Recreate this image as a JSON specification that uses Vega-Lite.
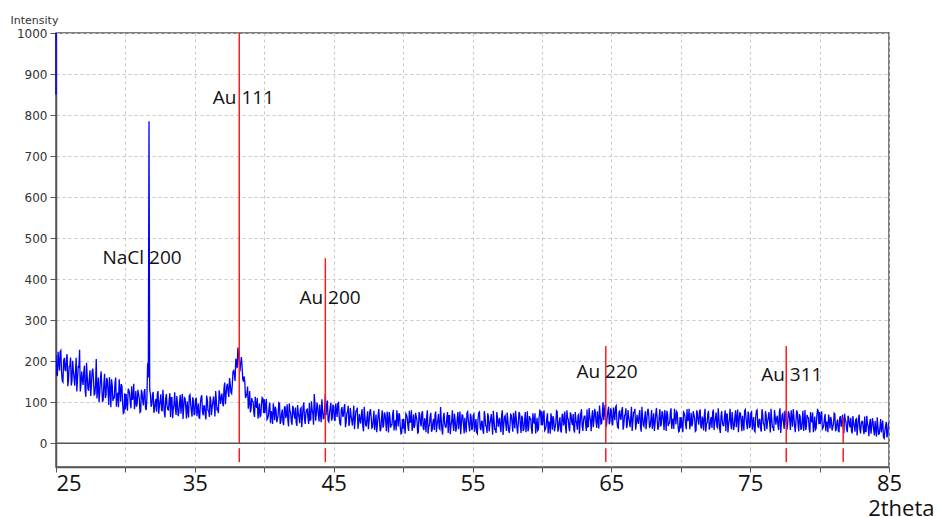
{
"$schema": "https://vega.github.io/schema/vega-lite/v6.json",
"width": 833, "height": 434,
"autosize": "none",
"padding": {"left": 56, "top": 33, "right": 51, "bottom": 50},
"background": "white",
"config": {"view": {"stroke": "#555", "strokeWidth": 1.5}},
"datasets": {
"xrd": [
{"t":25.0,"i":215},{"t":25.1,"i":164},{"t":25.2,"i":199},{"t":25.3,"i":223},{"t":25.4,"i":174},{"t":25.5,"i":149},{"t":25.6,"i":208},{"t":25.7,"i":177},{"t":25.8,"i":217},{"t":25.9,"i":155},
{"t":26.0,"i":188},{"t":26.1,"i":141},{"t":26.2,"i":201},{"t":26.3,"i":160},{"t":26.4,"i":171},{"t":26.5,"i":126},{"t":26.6,"i":187},{"t":26.7,"i":228},{"t":26.8,"i":144},{"t":26.9,"i":154},
{"t":27.0,"i":173},{"t":27.1,"i":129},{"t":27.2,"i":196},{"t":27.3,"i":133},{"t":27.4,"i":158},{"t":27.5,"i":115},{"t":27.6,"i":174},{"t":27.7,"i":156},{"t":27.8,"i":120},{"t":27.9,"i":205},
{"t":28.0,"i":132},{"t":28.1,"i":100},{"t":28.2,"i":155},{"t":28.3,"i":137},{"t":28.4,"i":106},{"t":28.5,"i":169},{"t":28.6,"i":116},{"t":28.7,"i":154},{"t":28.8,"i":93},{"t":28.9,"i":133},
{"t":29.0,"i":156},{"t":29.1,"i":103},{"t":29.2,"i":111},{"t":29.3,"i":160},{"t":29.4,"i":117},{"t":29.5,"i":88},{"t":29.6,"i":131},{"t":29.7,"i":144},{"t":29.8,"i":97},{"t":29.9,"i":75},
{"t":30.0,"i":82},{"t":30.1,"i":97},{"t":30.2,"i":133},{"t":30.3,"i":121},{"t":30.4,"i":85},{"t":30.5,"i":106},{"t":30.6,"i":145},{"t":30.7,"i":98},{"t":30.8,"i":89},{"t":30.9,"i":130},
{"t":31.0,"i":109},{"t":31.1,"i":77},{"t":31.2,"i":123},{"t":31.3,"i":92},{"t":31.4,"i":132},{"t":31.5,"i":81},{"t":31.6,"i":195},{"t":31.7,"i":785},{"t":31.8,"i":120},{"t":31.9,"i":94},
{"t":32.0,"i":125},{"t":32.1,"i":81},{"t":32.2,"i":108},{"t":32.3,"i":120},{"t":32.4,"i":72},{"t":32.5,"i":103},{"t":32.6,"i":82},{"t":32.7,"i":130},{"t":32.8,"i":75},{"t":32.9,"i":108},
{"t":33.0,"i":91},{"t":33.1,"i":81},{"t":33.2,"i":122},{"t":33.3,"i":111},{"t":33.4,"i":61},{"t":33.5,"i":94},{"t":33.6,"i":84},{"t":33.7,"i":115},{"t":33.8,"i":66},{"t":33.9,"i":100},
{"t":34.0,"i":72},{"t":34.1,"i":120},{"t":34.2,"i":87},{"t":34.3,"i":109},{"t":34.4,"i":60},{"t":34.5,"i":79},{"t":34.6,"i":115},{"t":34.7,"i":96},{"t":34.8,"i":65},{"t":34.9,"i":103},
{"t":35.0,"i":73},{"t":35.1,"i":111},{"t":35.2,"i":81},{"t":35.3,"i":62},{"t":35.4,"i":98},{"t":35.5,"i":117},{"t":35.6,"i":68},{"t":35.7,"i":91},{"t":35.8,"i":58},{"t":35.9,"i":106},
{"t":36.0,"i":78},{"t":36.1,"i":114},{"t":36.2,"i":68},{"t":36.3,"i":100},{"t":36.4,"i":92},{"t":36.5,"i":127},{"t":36.6,"i":80},{"t":36.7,"i":73},{"t":36.8,"i":117},{"t":36.9,"i":111},
{"t":37.0,"i":99},{"t":37.1,"i":134},{"t":37.2,"i":95},{"t":37.3,"i":139},{"t":37.4,"i":125},{"t":37.5,"i":159},{"t":37.6,"i":124},{"t":37.7,"i":144},{"t":37.8,"i":177},{"t":37.9,"i":152},
{"t":38.0,"i":196},{"t":38.1,"i":233},{"t":38.2,"i":197},{"t":38.3,"i":194},{"t":38.4,"i":190},{"t":38.5,"i":150},{"t":38.6,"i":149},{"t":38.7,"i":115},{"t":38.8,"i":138},{"t":38.9,"i":100},
{"t":39.0,"i":75},{"t":39.1,"i":110},{"t":39.2,"i":101},{"t":39.3,"i":64},{"t":39.4,"i":92},{"t":39.5,"i":110},{"t":39.6,"i":76},{"t":39.7,"i":65},{"t":39.8,"i":96},{"t":39.9,"i":109},
{"t":40.0,"i":107},{"t":40.1,"i":92},{"t":40.2,"i":58},{"t":40.3,"i":68},{"t":40.4,"i":99},{"t":40.5,"i":78},{"t":40.6,"i":47},{"t":40.7,"i":82},{"t":40.8,"i":89},{"t":40.9,"i":51},
{"t":41.0,"i":68},{"t":41.1,"i":97},{"t":41.2,"i":54},{"t":41.3,"i":82},{"t":41.4,"i":44},{"t":41.5,"i":90},{"t":41.6,"i":69},{"t":41.7,"i":56},{"t":41.8,"i":97},{"t":41.9,"i":74},
{"t":42.0,"i":45},{"t":42.1,"i":85},{"t":42.2,"i":60},{"t":42.3,"i":50},{"t":42.4,"i":93},{"t":42.5,"i":64},{"t":42.6,"i":83},{"t":42.7,"i":39},{"t":42.8,"i":89},{"t":42.9,"i":59},
{"t":43.0,"i":74},{"t":43.1,"i":83},{"t":43.2,"i":47},{"t":43.3,"i":56},{"t":43.4,"i":102},{"t":43.5,"i":72},{"t":43.6,"i":120},{"t":43.7,"i":55},{"t":43.8,"i":99},{"t":43.9,"i":68},
{"t":44.0,"i":94},{"t":44.1,"i":51},{"t":44.2,"i":82},{"t":44.3,"i":61},{"t":44.4,"i":120},{"t":44.5,"i":89},{"t":44.6,"i":55},{"t":44.7,"i":72},{"t":44.8,"i":99},{"t":44.9,"i":63},
{"t":45.0,"i":90},{"t":45.1,"i":54},{"t":45.2,"i":80},{"t":45.3,"i":97},{"t":45.4,"i":63},{"t":45.5,"i":45},{"t":45.6,"i":88},{"t":45.7,"i":66},{"t":45.8,"i":95},{"t":45.9,"i":51},
{"t":46.0,"i":75},{"t":46.1,"i":42},{"t":46.2,"i":86},{"t":46.3,"i":57},{"t":46.4,"i":66},{"t":46.5,"i":34},{"t":46.6,"i":78},{"t":46.7,"i":87},{"t":46.8,"i":49},{"t":46.9,"i":57},
{"t":47.0,"i":71},{"t":47.1,"i":41},{"t":47.2,"i":89},{"t":47.3,"i":45},{"t":47.4,"i":63},{"t":47.5,"i":34},{"t":47.6,"i":76},{"t":47.7,"i":65},{"t":47.8,"i":39},{"t":47.9,"i":79},
{"t":48.0,"i":49},{"t":48.1,"i":27},{"t":48.2,"i":68},{"t":48.3,"i":56},{"t":48.4,"i":34},{"t":48.5,"i":80},{"t":48.6,"i":43},{"t":48.7,"i":71},{"t":48.8,"i":29},{"t":48.9,"i":58},
{"t":49.0,"i":76},{"t":49.1,"i":38},{"t":49.2,"i":45},{"t":49.3,"i":81},{"t":49.4,"i":51},{"t":49.5,"i":31},{"t":49.6,"i":63},{"t":49.7,"i":73},{"t":49.8,"i":39},{"t":49.9,"i":25},
{"t":50.0,"i":35},{"t":50.1,"i":39},{"t":50.2,"i":72},{"t":50.3,"i":62},{"t":50.4,"i":30},{"t":50.5,"i":50},{"t":50.6,"i":80},{"t":50.7,"i":44},{"t":50.8,"i":37},{"t":50.9,"i":74},
{"t":51.0,"i":56},{"t":51.1,"i":27},{"t":51.2,"i":69},{"t":51.3,"i":41},{"t":51.4,"i":78},{"t":51.5,"i":32},{"t":51.6,"i":53},{"t":51.7,"i":65},{"t":51.8,"i":23},{"t":51.9,"i":45},
{"t":52.0,"i":74},{"t":52.1,"i":34},{"t":52.2,"i":59},{"t":52.3,"i":70},{"t":52.4,"i":27},{"t":52.5,"i":56},{"t":52.6,"i":37},{"t":52.7,"i":88},{"t":52.8,"i":32},{"t":52.9,"i":62},
{"t":53.0,"i":47},{"t":53.1,"i":39},{"t":53.2,"i":76},{"t":53.3,"i":67},{"t":53.4,"i":22},{"t":53.5,"i":53},{"t":53.6,"i":44},{"t":53.7,"i":72},{"t":53.8,"i":28},{"t":53.9,"i":60},
{"t":54.0,"i":34},{"t":54.1,"i":77},{"t":54.2,"i":47},{"t":54.3,"i":68},{"t":54.4,"i":24},{"t":54.5,"i":41},{"t":54.6,"i":74},{"t":54.7,"i":56},{"t":54.8,"i":29},{"t":54.9,"i":64},
{"t":55.0,"i":36},{"t":55.1,"i":71},{"t":55.2,"i":44},{"t":55.3,"i":26},{"t":55.4,"i":59},{"t":55.5,"i":76},{"t":55.6,"i":32},{"t":55.7,"i":53},{"t":55.8,"i":23},{"t":55.9,"i":66},
{"t":56.0,"i":41},{"t":56.1,"i":73},{"t":56.2,"i":29},{"t":56.3,"i":57},{"t":56.4,"i":48},{"t":56.5,"i":79},{"t":56.6,"i":34},{"t":56.7,"i":25},{"t":56.8,"i":62},{"t":56.9,"i":54},
{"t":57.0,"i":39},{"t":57.1,"i":69},{"t":57.2,"i":20},{"t":57.3,"i":64},{"t":57.4,"i":45},{"t":57.5,"i":75},{"t":57.6,"i":32},{"t":57.7,"i":43},{"t":57.8,"i":68},{"t":57.9,"i":28},
{"t":58.0,"i":57},{"t":58.1,"i":79},{"t":58.2,"i":38},{"t":58.3,"i":50},{"t":58.4,"i":71},{"t":58.5,"i":25},{"t":58.6,"i":62},{"t":58.7,"i":34},{"t":58.8,"i":76},{"t":58.9,"i":47},
{"t":59.0,"i":29},{"t":59.1,"i":66},{"t":59.2,"i":59},{"t":59.3,"i":23},{"t":59.4,"i":53},{"t":59.5,"i":73},{"t":59.6,"i":41},{"t":59.7,"i":31},{"t":59.8,"i":64},{"t":59.9,"i":78},
{"t":60.0,"i":78},{"t":60.1,"i":64},{"t":60.2,"i":31},{"t":60.3,"i":41},{"t":60.4,"i":73},{"t":60.5,"i":53},{"t":60.6,"i":23},{"t":60.7,"i":59},{"t":60.8,"i":66},{"t":60.9,"i":29},
{"t":61.0,"i":48},{"t":61.1,"i":77},{"t":61.2,"i":35},{"t":61.3,"i":63},{"t":61.4,"i":26},{"t":61.5,"i":72},{"t":61.6,"i":51},{"t":61.7,"i":39},{"t":61.8,"i":80},{"t":61.9,"i":58},
{"t":62.0,"i":29},{"t":62.1,"i":69},{"t":62.2,"i":44},{"t":62.3,"i":33},{"t":62.4,"i":76},{"t":62.5,"i":48},{"t":62.6,"i":67},{"t":62.7,"i":23},{"t":62.8,"i":72},{"t":62.9,"i":42},
{"t":63.0,"i":57},{"t":63.1,"i":66},{"t":63.2,"i":30},{"t":63.3,"i":40},{"t":63.4,"i":86},{"t":63.5,"i":56},{"t":63.6,"i":66},{"t":63.7,"i":39},{"t":63.8,"i":84},{"t":63.9,"i":52},
{"t":64.0,"i":78},{"t":64.1,"i":36},{"t":64.2,"i":68},{"t":64.3,"i":48},{"t":64.4,"i":100},{"t":64.5,"i":78},{"t":64.6,"i":46},{"t":64.7,"i":63},{"t":64.8,"i":89},{"t":64.9,"i":53},
{"t":65.0,"i":80},{"t":65.1,"i":44},{"t":65.2,"i":71},{"t":65.3,"i":88},{"t":65.4,"i":55},{"t":65.5,"i":37},{"t":65.6,"i":80},{"t":65.7,"i":59},{"t":65.8,"i":88},{"t":65.9,"i":45},
{"t":66.0,"i":69},{"t":66.1,"i":37},{"t":66.2,"i":81},{"t":66.3,"i":53},{"t":66.4,"i":62},{"t":66.5,"i":30},{"t":66.6,"i":75},{"t":66.7,"i":84},{"t":66.8,"i":47},{"t":66.9,"i":55},
{"t":67.0,"i":70},{"t":67.1,"i":40},{"t":67.2,"i":89},{"t":67.3,"i":44},{"t":67.4,"i":63},{"t":67.5,"i":34},{"t":67.6,"i":77},{"t":67.7,"i":66},{"t":67.8,"i":41},{"t":67.9,"i":81},
{"t":68.0,"i":52},{"t":68.1,"i":30},{"t":68.2,"i":71},{"t":68.3,"i":59},{"t":68.4,"i":38},{"t":68.5,"i":83},{"t":68.6,"i":46},{"t":68.7,"i":74},{"t":68.8,"i":32},{"t":68.9,"i":61},
{"t":69.0,"i":79},{"t":69.1,"i":42},{"t":69.2,"i":49},{"t":69.3,"i":85},{"t":69.4,"i":55},{"t":69.5,"i":35},{"t":69.6,"i":67},{"t":69.7,"i":77},{"t":69.8,"i":44},{"t":69.9,"i":30},
{"t":70.0,"i":36},{"t":70.1,"i":43},{"t":70.2,"i":76},{"t":70.3,"i":66},{"t":70.4,"i":34},{"t":70.5,"i":54},{"t":70.6,"i":84},{"t":70.7,"i":48},{"t":70.8,"i":41},{"t":70.9,"i":78},
{"t":71.0,"i":60},{"t":71.1,"i":31},{"t":71.2,"i":73},{"t":71.3,"i":45},{"t":71.4,"i":82},{"t":71.5,"i":36},{"t":71.6,"i":57},{"t":71.7,"i":69},{"t":71.8,"i":28},{"t":71.9,"i":50},
{"t":72.0,"i":79},{"t":72.1,"i":39},{"t":72.2,"i":64},{"t":72.3,"i":75},{"t":72.4,"i":32},{"t":72.5,"i":60},{"t":72.6,"i":41},{"t":72.7,"i":85},{"t":72.8,"i":36},{"t":72.9,"i":66},
{"t":73.0,"i":51},{"t":73.1,"i":43},{"t":73.2,"i":80},{"t":73.3,"i":71},{"t":73.4,"i":26},{"t":73.5,"i":57},{"t":73.6,"i":48},{"t":73.7,"i":76},{"t":73.8,"i":32},{"t":73.9,"i":64},
{"t":74.0,"i":39},{"t":74.1,"i":82},{"t":74.2,"i":52},{"t":74.3,"i":73},{"t":74.4,"i":29},{"t":74.5,"i":46},{"t":74.6,"i":79},{"t":74.7,"i":61},{"t":74.8,"i":34},{"t":74.9,"i":69},
{"t":75.0,"i":41},{"t":75.1,"i":76},{"t":75.2,"i":49},{"t":75.3,"i":31},{"t":75.4,"i":64},{"t":75.5,"i":81},{"t":75.6,"i":37},{"t":75.7,"i":58},{"t":75.8,"i":28},{"t":75.9,"i":71},
{"t":76.0,"i":46},{"t":76.1,"i":78},{"t":76.2,"i":34},{"t":76.3,"i":62},{"t":76.4,"i":53},{"t":76.5,"i":84},{"t":76.6,"i":39},{"t":76.7,"i":30},{"t":76.8,"i":67},{"t":76.9,"i":59},
{"t":77.0,"i":44},{"t":77.1,"i":74},{"t":77.2,"i":25},{"t":77.3,"i":69},{"t":77.4,"i":50},{"t":77.5,"i":79},{"t":77.6,"i":45},{"t":77.7,"i":47},{"t":77.8,"i":72},{"t":77.9,"i":32},
{"t":78.0,"i":61},{"t":78.1,"i":83},{"t":78.2,"i":42},{"t":78.3,"i":54},{"t":78.4,"i":75},{"t":78.5,"i":29},{"t":78.6,"i":65},{"t":78.7,"i":37},{"t":78.8,"i":79},{"t":78.9,"i":50},
{"t":79.0,"i":32},{"t":79.1,"i":69},{"t":79.2,"i":62},{"t":79.3,"i":26},{"t":79.4,"i":56},{"t":79.5,"i":75},{"t":79.6,"i":43},{"t":79.7,"i":33},{"t":79.8,"i":66},{"t":79.9,"i":80},
{"t":80.0,"i":76},{"t":80.1,"i":64},{"t":80.2,"i":35},{"t":80.3,"i":43},{"t":80.4,"i":71},{"t":80.5,"i":53},{"t":80.6,"i":27},{"t":80.7,"i":58},{"t":80.8,"i":64},{"t":80.9,"i":31},
{"t":81.0,"i":47},{"t":81.1,"i":71},{"t":81.2,"i":35},{"t":81.3,"i":58},{"t":81.4,"i":27},{"t":81.5,"i":66},{"t":81.6,"i":47},{"t":81.7,"i":37},{"t":81.8,"i":72},{"t":81.9,"i":52},
{"t":82.0,"i":27},{"t":82.1,"i":61},{"t":82.2,"i":39},{"t":82.3,"i":30},{"t":82.4,"i":66},{"t":82.5,"i":41},{"t":82.6,"i":57},{"t":82.7,"i":19},{"t":82.8,"i":60},{"t":82.9,"i":35},
{"t":83.0,"i":47},{"t":83.1,"i":53},{"t":83.2,"i":22},{"t":83.3,"i":28},{"t":83.4,"i":67},{"t":83.5,"i":40},{"t":83.6,"i":47},{"t":83.7,"i":23},{"t":83.8,"i":61},{"t":83.9,"i":32},
{"t":84.0,"i":54},{"t":84.1,"i":16},{"t":84.2,"i":41},{"t":84.3,"i":23},{"t":84.4,"i":59},{"t":84.5,"i":44},{"t":84.6,"i":15},{"t":84.7,"i":29},{"t":84.8,"i":52},{"t":84.9,"i":21},
{"t":85.0,"i":50},
{"t":25.05,"i":169},{"t":25.15,"i":223},{"t":25.25,"i":177},{"t":25.35,"i":226},{"t":25.45,"i":152},{"t":25.55,"i":201},{"t":25.65,"i":178},{"t":25.75,"i":207},{"t":25.85,"i":139},{"t":25.95,"i":187},
{"t":26.05,"i":209},{"t":26.15,"i":152},{"t":26.25,"i":177},{"t":26.35,"i":140},{"t":26.45,"i":208},{"t":26.55,"i":156},{"t":26.65,"i":186},{"t":26.75,"i":126},{"t":26.85,"i":175},{"t":26.95,"i":142},
{"t":27.05,"i":189},{"t":27.15,"i":113},{"t":27.25,"i":162},{"t":27.35,"i":128},{"t":27.45,"i":178},{"t":27.55,"i":141},{"t":27.65,"i":182},{"t":27.75,"i":118},{"t":27.85,"i":144},{"t":27.95,"i":109},
{"t":28.05,"i":160},{"t":28.15,"i":124},{"t":28.25,"i":175},{"t":28.35,"i":100},{"t":28.45,"i":146},{"t":28.55,"i":110},{"t":28.65,"i":159},{"t":28.75,"i":126},{"t":28.85,"i":161},{"t":28.95,"i":88},
{"t":29.05,"i":142},{"t":29.15,"i":112},{"t":29.25,"i":147},{"t":29.35,"i":89},{"t":29.45,"i":123},{"t":29.55,"i":156},{"t":29.65,"i":101},{"t":29.75,"i":139},{"t":29.85,"i":73},{"t":29.95,"i":122},
{"t":30.05,"i":120},{"t":30.15,"i":79},{"t":30.25,"i":129},{"t":30.35,"i":98},{"t":30.45,"i":139},{"t":30.55,"i":111},{"t":30.65,"i":83},{"t":30.75,"i":127},{"t":30.85,"i":97},{"t":30.95,"i":119},
{"t":31.05,"i":75},{"t":31.15,"i":130},{"t":31.25,"i":102},{"t":31.35,"i":126},{"t":31.45,"i":85},{"t":31.55,"i":112},{"t":31.65,"i":160},{"t":31.75,"i":130},{"t":31.85,"i":89},{"t":31.95,"i":117},
{"t":32.05,"i":74},{"t":32.15,"i":100},{"t":32.25,"i":77},{"t":32.35,"i":127},{"t":32.45,"i":92},{"t":32.55,"i":119},{"t":32.65,"i":78},{"t":32.75,"i":104},{"t":32.85,"i":63},{"t":32.95,"i":120},
{"t":33.05,"i":82},{"t":33.15,"i":105},{"t":33.25,"i":64},{"t":33.35,"i":111},{"t":33.45,"i":84},{"t":33.55,"i":124},{"t":33.65,"i":69},{"t":33.75,"i":95},{"t":33.85,"i":76},{"t":33.95,"i":118},
{"t":34.05,"i":99},{"t":34.15,"i":59},{"t":34.25,"i":111},{"t":34.35,"i":86},{"t":34.45,"i":102},{"t":34.55,"i":63},{"t":34.65,"i":118},{"t":34.75,"i":78},{"t":34.85,"i":112},{"t":34.95,"i":68},
{"t":35.05,"i":106},{"t":35.15,"i":66},{"t":35.25,"i":97},{"t":35.35,"i":61},{"t":35.45,"i":112},{"t":35.55,"i":76},{"t":35.65,"i":91},{"t":35.75,"i":69},{"t":35.85,"i":116},{"t":35.95,"i":80},
{"t":36.05,"i":64},{"t":36.15,"i":104},{"t":36.25,"i":88},{"t":36.35,"i":114},{"t":36.45,"i":65},{"t":36.55,"i":104},{"t":36.65,"i":84},{"t":36.75,"i":129},{"t":36.85,"i":96},{"t":36.95,"i":121},
{"t":37.05,"i":90},{"t":37.15,"i":148},{"t":37.25,"i":117},{"t":37.35,"i":145},{"t":37.45,"i":113},{"t":37.55,"i":144},{"t":37.65,"i":121},{"t":37.75,"i":175},{"t":37.85,"i":167},{"t":37.95,"i":206},
{"t":38.05,"i":183},{"t":38.15,"i":218},{"t":38.25,"i":175},{"t":38.35,"i":210},{"t":38.45,"i":156},{"t":38.55,"i":163},{"t":38.65,"i":110},{"t":38.75,"i":121},{"t":38.85,"i":84},{"t":38.95,"i":127},
{"t":39.05,"i":83},{"t":39.15,"i":102},{"t":39.25,"i":74},{"t":39.35,"i":113},{"t":39.45,"i":86},{"t":39.55,"i":60},{"t":39.65,"i":97},{"t":39.75,"i":67},{"t":39.85,"i":111},{"t":39.95,"i":74},
{"t":40.05,"i":73},{"t":40.15,"i":108},{"t":40.25,"i":61},{"t":40.35,"i":88},{"t":40.45,"i":49},{"t":40.55,"i":73},{"t":40.65,"i":97},{"t":40.75,"i":56},{"t":40.85,"i":81},{"t":40.95,"i":59},
{"t":41.05,"i":99},{"t":41.15,"i":47},{"t":41.25,"i":73},{"t":41.35,"i":50},{"t":41.45,"i":86},{"t":41.55,"i":61},{"t":41.65,"i":95},{"t":41.75,"i":41},{"t":41.85,"i":79},{"t":41.95,"i":53},
{"t":42.05,"i":91},{"t":42.15,"i":67},{"t":42.25,"i":87},{"t":42.35,"i":42},{"t":42.45,"i":73},{"t":42.55,"i":49},{"t":42.65,"i":86},{"t":42.75,"i":63},{"t":42.85,"i":99},{"t":42.95,"i":47},
{"t":43.05,"i":82},{"t":43.15,"i":61},{"t":43.25,"i":98},{"t":43.35,"i":57},{"t":43.45,"i":81},{"t":43.55,"i":45},{"t":43.65,"i":97},{"t":43.75,"i":71},{"t":43.85,"i":90},{"t":43.95,"i":53},
{"t":44.05,"i":70},{"t":44.15,"i":107},{"t":44.25,"i":60},{"t":44.35,"i":82},{"t":44.45,"i":68},{"t":44.55,"i":104},{"t":44.65,"i":52},{"t":44.75,"i":87},{"t":44.85,"i":55},{"t":44.95,"i":94},
{"t":45.05,"i":58},{"t":45.15,"i":97},{"t":45.25,"i":64},{"t":45.35,"i":99},{"t":45.45,"i":47},{"t":45.55,"i":82},{"t":45.65,"i":66},{"t":45.75,"i":87},{"t":45.85,"i":39},{"t":45.95,"i":74},
{"t":46.05,"i":91},{"t":46.15,"i":51},{"t":46.25,"i":68},{"t":46.35,"i":43},{"t":46.45,"i":92},{"t":46.55,"i":56},{"t":46.65,"i":78},{"t":46.75,"i":35},{"t":46.85,"i":71},{"t":46.95,"i":48},
{"t":47.05,"i":83},{"t":47.15,"i":29},{"t":47.25,"i":65},{"t":47.35,"i":41},{"t":47.45,"i":78},{"t":47.55,"i":52},{"t":47.65,"i":83},{"t":47.75,"i":37},{"t":47.85,"i":57},{"t":47.95,"i":32},
{"t":48.05,"i":70},{"t":48.15,"i":45},{"t":48.25,"i":83},{"t":48.35,"i":29},{"t":48.45,"i":63},{"t":48.55,"i":38},{"t":48.65,"i":75},{"t":48.75,"i":52},{"t":48.85,"i":77},{"t":48.95,"i":26},
{"t":49.05,"i":66},{"t":49.15,"i":45},{"t":49.25,"i":71},{"t":49.35,"i":31},{"t":49.45,"i":56},{"t":49.55,"i":80},{"t":49.65,"i":41},{"t":49.75,"i":69},{"t":49.85,"i":23},{"t":49.95,"i":59},
{"t":50.05,"i":59},{"t":50.15,"i":23},{"t":50.25,"i":69},{"t":50.35,"i":41},{"t":50.45,"i":79},{"t":50.55,"i":55},{"t":50.65,"i":30},{"t":50.75,"i":70},{"t":50.85,"i":44},{"t":50.95,"i":65},
{"t":51.05,"i":25},{"t":51.15,"i":76},{"t":51.25,"i":50},{"t":51.35,"i":73},{"t":51.45,"i":36},{"t":51.55,"i":61},{"t":51.65,"i":27},{"t":51.75,"i":80},{"t":51.85,"i":41},{"t":51.95,"i":66},
{"t":52.05,"i":28},{"t":52.15,"i":52},{"t":52.25,"i":32},{"t":52.35,"i":77},{"t":52.45,"i":46},{"t":52.55,"i":71},{"t":52.65,"i":34},{"t":52.75,"i":57},{"t":52.85,"i":21},{"t":52.95,"i":74},
{"t":53.05,"i":39},{"t":53.15,"i":61},{"t":53.25,"i":25},{"t":53.35,"i":67},{"t":53.45,"i":44},{"t":53.55,"i":80},{"t":53.65,"i":30},{"t":53.75,"i":55},{"t":53.85,"i":37},{"t":53.95,"i":76},
{"t":54.05,"i":58},{"t":54.15,"i":22},{"t":54.25,"i":69},{"t":54.35,"i":47},{"t":54.45,"i":62},{"t":54.55,"i":26},{"t":54.65,"i":77},{"t":54.75,"i":41},{"t":54.85,"i":72},{"t":54.95,"i":32},
{"t":55.05,"i":68},{"t":55.15,"i":28},{"t":55.25,"i":59},{"t":55.35,"i":23},{"t":55.45,"i":74},{"t":55.55,"i":38},{"t":55.65,"i":53},{"t":55.75,"i":31},{"t":55.85,"i":78},{"t":55.95,"i":42},
{"t":56.05,"i":25},{"t":56.15,"i":64},{"t":56.25,"i":46},{"t":56.35,"i":71},{"t":56.45,"i":21},{"t":56.55,"i":57},{"t":56.65,"i":34},{"t":56.75,"i":76},{"t":56.85,"i":40},{"t":56.95,"i":62},
{"t":57.05,"i":27},{"t":57.15,"i":80},{"t":57.25,"i":44},{"t":57.35,"i":67},{"t":57.45,"i":30},{"t":57.55,"i":56},{"t":57.65,"i":25},{"t":57.75,"i":70},{"t":57.85,"i":50},{"t":57.95,"i":74},
{"t":58.05,"i":36},{"t":58.15,"i":61},{"t":58.25,"i":23},{"t":58.35,"i":76},{"t":58.45,"i":42},{"t":58.55,"i":67},{"t":58.65,"i":30},{"t":58.75,"i":53},{"t":58.85,"i":27},{"t":58.95,"i":78},
{"t":59.05,"i":38},{"t":59.15,"i":59},{"t":59.25,"i":33},{"t":59.35,"i":73},{"t":59.45,"i":48},{"t":59.55,"i":24},{"t":59.65,"i":62},{"t":59.75,"i":34},{"t":59.85,"i":80},{"t":59.95,"i":44},
{"t":60.05,"i":44},{"t":60.15,"i":80},{"t":60.25,"i":34},{"t":60.35,"i":62},{"t":60.45,"i":24},{"t":60.55,"i":48},{"t":60.65,"i":73},{"t":60.75,"i":33},{"t":60.85,"i":59},{"t":60.95,"i":38},
{"t":61.05,"i":79},{"t":61.15,"i":28},{"t":61.25,"i":54},{"t":61.35,"i":31},{"t":61.45,"i":68},{"t":61.55,"i":43},{"t":61.65,"i":77},{"t":61.75,"i":24},{"t":61.85,"i":62},{"t":61.95,"i":37},
{"t":62.05,"i":75},{"t":62.15,"i":51},{"t":62.25,"i":71},{"t":62.35,"i":26},{"t":62.45,"i":57},{"t":62.55,"i":33},{"t":62.65,"i":70},{"t":62.75,"i":47},{"t":62.85,"i":83},{"t":62.95,"i":30},
{"t":63.05,"i":66},{"t":63.15,"i":45},{"t":63.25,"i":82},{"t":63.35,"i":41},{"t":63.45,"i":64},{"t":63.55,"i":29},{"t":63.65,"i":80},{"t":63.75,"i":56},{"t":63.85,"i":75},{"t":63.95,"i":37},
{"t":64.05,"i":55},{"t":64.15,"i":92},{"t":64.25,"i":47},{"t":64.35,"i":70},{"t":64.45,"i":56},{"t":64.55,"i":94},{"t":64.65,"i":43},{"t":64.75,"i":78},{"t":64.85,"i":46},{"t":64.95,"i":85},
{"t":65.05,"i":48},{"t":65.15,"i":87},{"t":65.25,"i":56},{"t":65.35,"i":91},{"t":65.45,"i":39},{"t":65.55,"i":75},{"t":65.65,"i":59},{"t":65.75,"i":81},{"t":65.85,"i":33},{"t":65.95,"i":68},
{"t":66.05,"i":85},{"t":66.15,"i":46},{"t":66.25,"i":64},{"t":66.35,"i":39},{"t":66.45,"i":89},{"t":66.55,"i":52},{"t":66.65,"i":75},{"t":66.75,"i":33},{"t":66.85,"i":69},{"t":66.95,"i":47},
{"t":67.05,"i":81},{"t":67.15,"i":28},{"t":67.25,"i":64},{"t":67.35,"i":41},{"t":67.45,"i":78},{"t":67.55,"i":53},{"t":67.65,"i":84},{"t":67.75,"i":39},{"t":67.85,"i":59},{"t":67.95,"i":35},
{"t":68.05,"i":73},{"t":68.15,"i":48},{"t":68.25,"i":86},{"t":68.35,"i":33},{"t":68.45,"i":67},{"t":68.55,"i":41},{"t":68.65,"i":78},{"t":68.75,"i":55},{"t":68.85,"i":81},{"t":68.95,"i":30},
{"t":69.05,"i":70},{"t":69.15,"i":49},{"t":69.25,"i":75},{"t":69.35,"i":35},{"t":69.45,"i":60},{"t":69.55,"i":84},{"t":69.65,"i":46},{"t":69.75,"i":74},{"t":69.85,"i":28},{"t":69.95,"i":64},
{"t":70.05,"i":63},{"t":70.15,"i":27},{"t":70.25,"i":73},{"t":70.35,"i":45},{"t":70.45,"i":83},{"t":70.55,"i":59},{"t":70.65,"i":34},{"t":70.75,"i":74},{"t":70.85,"i":48},{"t":70.95,"i":69},
{"t":71.05,"i":29},{"t":71.15,"i":80},{"t":71.25,"i":54},{"t":71.35,"i":77},{"t":71.45,"i":40},{"t":71.55,"i":65},{"t":71.65,"i":31},{"t":71.75,"i":84},{"t":71.85,"i":46},{"t":71.95,"i":71},
{"t":72.05,"i":33},{"t":72.15,"i":57},{"t":72.25,"i":37},{"t":72.35,"i":82},{"t":72.45,"i":51},{"t":72.55,"i":75},{"t":72.65,"i":38},{"t":72.75,"i":61},{"t":72.85,"i":25},{"t":72.95,"i":78},
{"t":73.05,"i":43},{"t":73.15,"i":65},{"t":73.25,"i":29},{"t":73.35,"i":71},{"t":73.45,"i":48},{"t":73.55,"i":84},{"t":73.65,"i":34},{"t":73.75,"i":59},{"t":73.85,"i":41},{"t":73.95,"i":80},
{"t":74.05,"i":63},{"t":74.15,"i":27},{"t":74.25,"i":74},{"t":74.35,"i":52},{"t":74.45,"i":67},{"t":74.55,"i":31},{"t":74.65,"i":82},{"t":74.75,"i":46},{"t":74.85,"i":77},{"t":74.95,"i":37},
{"t":75.05,"i":73},{"t":75.15,"i":33},{"t":75.25,"i":64},{"t":75.35,"i":28},{"t":75.45,"i":79},{"t":75.55,"i":43},{"t":75.65,"i":58},{"t":75.75,"i":36},{"t":75.85,"i":83},{"t":75.95,"i":47},
{"t":76.05,"i":30},{"t":76.15,"i":69},{"t":76.25,"i":51},{"t":76.35,"i":76},{"t":76.45,"i":26},{"t":76.55,"i":62},{"t":76.65,"i":39},{"t":76.75,"i":81},{"t":76.85,"i":45},{"t":76.95,"i":67},
{"t":77.05,"i":32},{"t":77.15,"i":85},{"t":77.25,"i":49},{"t":77.35,"i":72},{"t":77.45,"i":35},{"t":77.55,"i":64},{"t":77.65,"i":33},{"t":77.75,"i":78},{"t":77.85,"i":58},{"t":77.95,"i":80},
{"t":78.05,"i":40},{"t":78.15,"i":65},{"t":78.25,"i":27},{"t":78.35,"i":80},{"t":78.45,"i":46},{"t":78.55,"i":71},{"t":78.65,"i":33},{"t":78.75,"i":56},{"t":78.85,"i":30},{"t":78.95,"i":81},
{"t":79.05,"i":41},{"t":79.15,"i":62},{"t":79.25,"i":36},{"t":79.35,"i":76},{"t":79.45,"i":51},{"t":79.55,"i":27},{"t":79.65,"i":65},{"t":79.75,"i":36},{"t":79.85,"i":82},{"t":79.95,"i":46},
{"t":80.05,"i":47},{"t":80.15,"i":78},{"t":80.25,"i":38},{"t":80.35,"i":61},{"t":80.45,"i":29},{"t":80.55,"i":48},{"t":80.65,"i":70},{"t":80.75,"i":36},{"t":80.85,"i":57},{"t":80.95,"i":39},
{"t":81.05,"i":73},{"t":81.15,"i":29},{"t":81.25,"i":51},{"t":81.35,"i":31},{"t":81.45,"i":62},{"t":81.55,"i":40},{"t":81.65,"i":69},{"t":81.75,"i":24},{"t":81.85,"i":57},{"t":81.95,"i":34},
{"t":82.05,"i":67},{"t":82.15,"i":45},{"t":82.25,"i":62},{"t":82.35,"i":24},{"t":82.45,"i":50},{"t":82.55,"i":28},{"t":82.65,"i":59},{"t":82.75,"i":40},{"t":82.85,"i":70},{"t":82.95,"i":24},
{"t":83.05,"i":53},{"t":83.15,"i":34},{"t":83.25,"i":65},{"t":83.35,"i":28},{"t":83.45,"i":48},{"t":83.55,"i":17},{"t":83.65,"i":59},{"t":83.75,"i":38},{"t":83.85,"i":53},{"t":83.95,"i":19},
{"t":84.05,"i":32},{"t":84.15,"i":63},{"t":84.25,"i":22},{"t":84.35,"i":40},{"t":84.45,"i":26},{"t":84.55,"i":55},{"t":84.65,"i":12},{"t":84.75,"i":42},{"t":84.85,"i":14},{"t":84.95,"i":47}
],
"peaks": [
{"t":38.2,"base":0,"top":1000,"d1":-12,"d2":-46},{"t":44.4,"base":0,"top":451,"d1":-12,"d2":-46},{"t":64.6,"base":0,"top":237,"d1":-12,"d2":-46},{"t":77.6,"base":0,"top":237,"d1":-12,"d2":-46},{"t":81.7,"base":0,"top":63,"d1":-12,"d2":-46}
],
"labels": [
{"t":38.5,"i":841,"label":"Au 111"},
{"t":31.2,"i":451,"label":"NaCl 200"},
{"t":44.74,"i":354,"label":"Au 200"},
{"t":64.69,"i":174,"label":"Au 220"},
{"t":78.0,"i":166,"label":"Au 311"}
],
"edge": [{"t":25,"lo":850,"hi":1000}],
"zero": [{"v":0}]
},
"layer": [
{
"data": {"name": "xrd"},
"mark": {"type": "line", "color": "#0000ff", "strokeWidth": 1.3, "clip": true},
"encoding": {
"x": {"field": "t", "type": "quantitative",
"scale": {"domain": [25, 85], "nice": false, "zero": false},
"axis": {"values": [25,30,35,40,45,50,55,60,65,70,75,80,85],
"labelExpr": "datum.value % 10 == 5 ? datum.label : ''",
"grid": true, "gridDash": [3,3], "gridColor": "#c8c8c8",
"domainColor": "#555", "domainWidth": 1.5, "tickColor": "#555", "tickSize": 5,
"labelFont": "Open Sans", "labelFontSize": 22, "labelColor": "#111", "labelPadding": 1, "labelDx": 3,
"labelAlign": {"condition": {"test": "datum.value == 25", "value": "left"}, "value": "center"},
"labelOverlap": false, "labelFlush": false,
"title": "2theta", "titleFont": "Open Sans", "titleFontSize": 22, "titleFontWeight": "normal", "titleColor": "#111",
"titleAlign": "right", "titleBaseline": "alphabetic", "titleX": 878, "titleY": 48}},
"y": {"field": "i", "type": "quantitative",
"scale": {"domain": [-58, 1000], "nice": false, "zero": false},
"axis": {"values": [0,100,200,300,400,500,600,700,800,900,1000], "format": "d",
"grid": true, "gridDash": [3,3], "gridColor": "#c8c8c8",
"domainColor": "#555", "domainWidth": 1.5, "tickColor": "#555", "tickSize": 6,
"labelFont": "DejaVu Sans", "labelFontSize": 12, "labelColor": "#333", "labelPadding": 3,
"title": "Intensity", "titleFont": "DejaVu Sans", "titleFontSize": 11, "titleFontWeight": "normal", "titleColor": "#333",
"titleAngle": 0, "titleAlign": "center", "titleBaseline": "alphabetic", "titleX": -22, "titleY": -10}}
}
},
{
"data": {"name": "edge"},
"mark": {"type": "rule", "color": "#0000ff", "strokeWidth": 1.5},
"encoding": {"x": {"field": "t", "type": "quantitative"}, "y": {"field": "lo", "type": "quantitative"}, "y2": {"field": "hi"}}
},
{
"data": {"name": "zero"},
"mark": {"type": "rule", "color": "#555", "strokeWidth": 1.5},
"encoding": {"y": {"field": "v", "type": "quantitative"}}
},
{
"data": {"name": "peaks"},
"mark": {"type": "rule", "color": "#ff1a1a", "strokeWidth": 1.5},
"encoding": {"x": {"field": "t", "type": "quantitative"}, "y": {"field": "base", "type": "quantitative"}, "y2": {"field": "top"}}
},
{
"data": {"name": "peaks"},
"mark": {"type": "rule", "color": "#ff1a1a", "strokeWidth": 1.5},
"encoding": {"x": {"field": "t", "type": "quantitative"}, "y": {"field": "d1", "type": "quantitative"}, "y2": {"field": "d2"}}
},
{
"data": {"name": "labels"},
"mark": {"type": "text", "font": "Open Sans", "fontSize": 19, "color": "#111", "align": "center", "baseline": "middle"},
"encoding": {"x": {"field": "t", "type": "quantitative"}, "y": {"field": "i", "type": "quantitative"}, "text": {"field": "label"}}
}
]
}
